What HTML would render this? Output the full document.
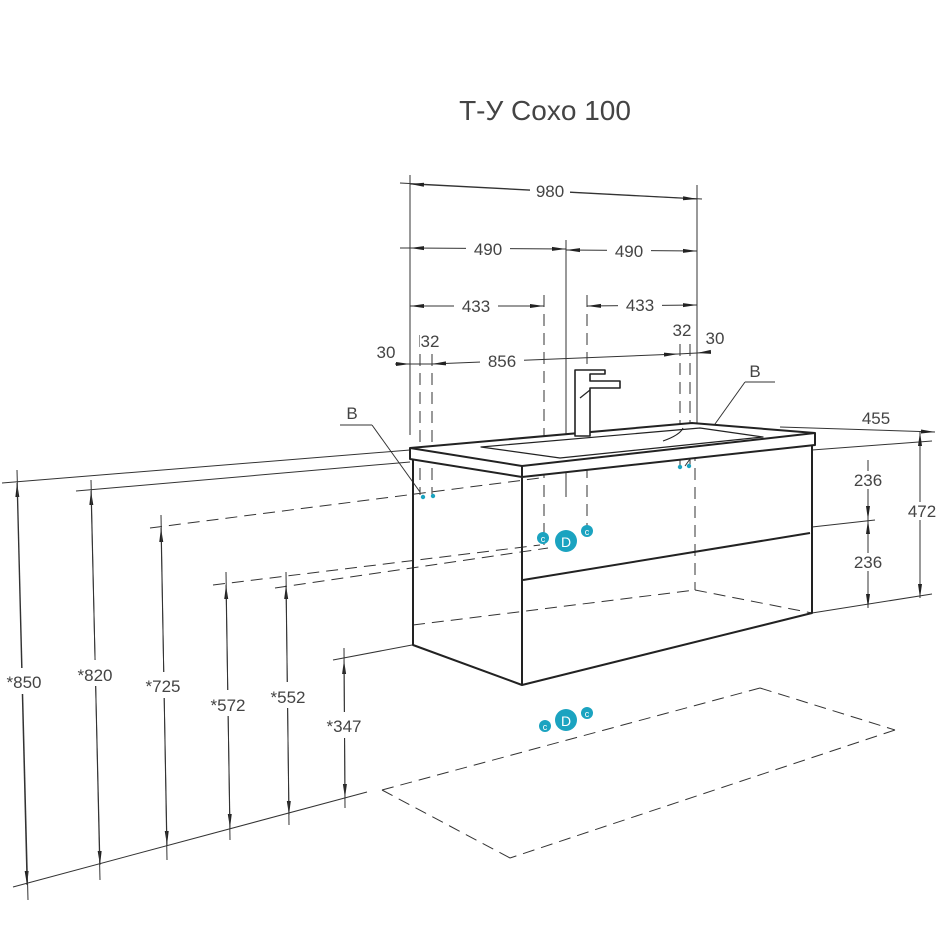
<!DOCTYPE html>
<html><head><meta charset="utf-8"><style>
html,body{margin:0;padding:0;background:#fff}
svg{display:block}
text{font-family:"Liberation Sans",sans-serif;fill:#444}
</style></head><body>
<svg width="950" height="950" viewBox="0 0 950 950" xmlns="http://www.w3.org/2000/svg">
<defs>
<marker id="a" viewBox="0 0 14 10" refX="14" refY="5" markerWidth="14" markerHeight="10" markerUnits="userSpaceOnUse" orient="auto-start-reverse"><path d="M0,3 L14,5 L0,7 z" fill="#222"/></marker>
</defs>
<text x="545" y="120" font-size="28" text-anchor="middle">Т-У Coxo 100</text>
<g stroke="#333" stroke-width="1" fill="none">
<line x1="410" y1="175" x2="410" y2="435"/>
<line x1="697" y1="185" x2="697" y2="425"/>
<line x1="566" y1="240" x2="566" y2="497"/>
<line x1="400" y1="183" x2="702" y2="199"/>
<line x1="410" y1="184" x2="697" y2="199" marker-start="url(#a)" marker-end="url(#a)"/>
<line x1="410" y1="248" x2="566" y2="249" marker-start="url(#a)" marker-end="url(#a)"/>
<line x1="566" y1="250" x2="697" y2="251" marker-start="url(#a)" marker-end="url(#a)"/>
<line x1="400" y1="248" x2="410" y2="248"/>
<line x1="410" y1="306" x2="544" y2="306" marker-start="url(#a)" marker-end="url(#a)"/>
<line x1="587" y1="306" x2="697" y2="305" marker-start="url(#a)" marker-end="url(#a)"/>
<line x1="395" y1="364" x2="410" y2="364" marker-end="url(#a)"/>
<line x1="432" y1="364" x2="678" y2="354" marker-start="url(#a)" marker-end="url(#a)"/>
<line x1="697" y1="353" x2="710" y2="352" marker-start="url(#a)"/>
<line x1="410" y1="364" x2="432" y2="364"/>
<line x1="678" y1="354" x2="697" y2="353"/>
</g>
<g stroke="#333" stroke-width="1" fill="none" stroke-dasharray="12,7">
<line x1="544" y1="295" x2="544" y2="545"/>
<line x1="587" y1="295" x2="587" y2="530"/>
<line x1="420" y1="335" x2="420" y2="495"/>
<line x1="432" y1="335" x2="432" y2="495"/>
<line x1="680" y1="325" x2="680" y2="465"/>
<line x1="690" y1="325" x2="690" y2="465"/>
<line x1="695" y1="430" x2="695" y2="590"/>
<line x1="413" y1="625" x2="695" y2="590"/>
<line x1="695" y1="590" x2="812" y2="613"/>
<line x1="150" y1="528" x2="540" y2="478"/>
<line x1="213" y1="585" x2="540" y2="545"/>
<line x1="275" y1="588" x2="548" y2="548"/>
<line x1="382" y1="790" x2="760" y2="688"/>
<line x1="760" y1="688" x2="895" y2="730"/>
<line x1="895" y1="730" x2="510" y2="858"/>
<line x1="510" y1="858" x2="382" y2="790"/>
<line x1="480" y1="448" x2="690" y2="429"/>
</g>
<g stroke="#333" stroke-width="1" fill="none">
<line x1="340" y1="425" x2="372" y2="425"/><line x1="372" y1="425" x2="420" y2="492"/>
<line x1="745" y1="382" x2="775" y2="382"/><line x1="745" y1="382" x2="685" y2="466"/>
<line x1="2" y1="483" x2="410" y2="450"/>
<line x1="76" y1="491" x2="410" y2="462"/>
<line x1="13" y1="887" x2="367" y2="792"/>
<line x1="333" y1="660" x2="412" y2="645"/>
<line x1="17" y1="483" x2="27" y2="885" marker-start="url(#a)" marker-end="url(#a)"/>
<line x1="91" y1="491" x2="100" y2="865" marker-start="url(#a)" marker-end="url(#a)"/>
<line x1="161" y1="528" x2="167" y2="845" marker-start="url(#a)" marker-end="url(#a)"/>
<line x1="226" y1="585" x2="230" y2="828" marker-start="url(#a)" marker-end="url(#a)"/>
<line x1="286" y1="585" x2="289" y2="815" marker-start="url(#a)" marker-end="url(#a)"/>
<line x1="344" y1="660" x2="345" y2="798" marker-start="url(#a)" marker-end="url(#a)"/>
<line x1="17" y1="470" x2="28" y2="900"/>
<line x1="91" y1="480" x2="100" y2="880"/>
<line x1="161" y1="515" x2="167" y2="860"/>
<line x1="226" y1="572" x2="230" y2="840"/>
<line x1="286" y1="572" x2="289" y2="825"/>
<line x1="344" y1="648" x2="345" y2="808"/>
<line x1="780" y1="427" x2="935" y2="432" marker-end="url(#a)"/>
<line x1="812" y1="450" x2="932" y2="441"/>
<line x1="812" y1="527" x2="875" y2="520"/>
<line x1="812" y1="613" x2="932" y2="594"/>
<line x1="920" y1="432" x2="920" y2="598" marker-start="url(#a)" marker-end="url(#a)"/>
<line x1="868" y1="460" x2="868" y2="520" marker-end="url(#a)"/>
<line x1="868" y1="520" x2="868" y2="608" marker-start="url(#a)" marker-end="url(#a)"/>
</g>
<g font-size="17" text-anchor="middle">
<rect x="530" y="182" width="40" height="16" fill="#fff"/>
<text x="550" y="197">980</text>
<rect x="466" y="240" width="44" height="16" fill="#fff"/>
<text x="488" y="255">490</text>
<rect x="607" y="242" width="44" height="16" fill="#fff"/>
<text x="629" y="257">490</text>
<rect x="454" y="297" width="44" height="16" fill="#fff"/>
<text x="476" y="312">433</text>
<rect x="618" y="297" width="44" height="16" fill="#fff"/>
<text x="640" y="311">433</text>
<rect x="480" y="352" width="44" height="16" fill="#fff"/>
<text x="502" y="367">856</text>
<text x="386" y="358">30</text>
<rect x="420" y="333" width="20" height="16" fill="#fff"/>
<text x="430" y="347">32</text>
<rect x="672" y="322" width="20" height="16" fill="#fff"/>
<text x="682" y="336">32</text>
<text x="715" y="344">30</text>
<text x="352" y="419">B</text>
<text x="755" y="377">B</text>
<text x="876" y="424">455</text>
<rect x="904" y="502" width="36" height="18" fill="#fff"/>
<text x="922" y="517">472</text>
<rect x="850" y="471" width="36" height="18" fill="#fff"/>
<text x="868" y="486">236</text>
<rect x="850" y="553" width="36" height="18" fill="#fff"/>
<text x="868" y="568">236</text>
<rect x="2" y="668" width="46" height="26" fill="#fff"/>
<text x="24" y="688">*850</text>
<rect x="72" y="660" width="46" height="26" fill="#fff"/>
<text x="95" y="681">*820</text>
<rect x="140" y="672" width="46" height="26" fill="#fff"/>
<text x="163" y="692">*725</text>
<rect x="205" y="690" width="46" height="26" fill="#fff"/>
<text x="228" y="711">*572</text>
<rect x="265" y="682" width="46" height="26" fill="#fff"/>
<text x="288" y="703">*552</text>
<rect x="321" y="712" width="46" height="26" fill="#fff"/>
<text x="344" y="732">*347</text>
</g>
<g stroke="#222" stroke-width="2" fill="none" stroke-linejoin="round">
<path d="M410,448 L692,423 L815,433 L815,445 L522,477 L410,459 Z" fill="#fff"/>
<line x1="410" y1="448" x2="522" y2="466"/>
<line x1="522" y1="466" x2="815" y2="433"/>
<line x1="522" y1="466" x2="522" y2="477"/>
<path d="M413,460 L413,645 L522,685 L812,613 L812,446"/>
<line x1="522" y1="478" x2="522" y2="685"/>
<line x1="523" y1="580" x2="810" y2="533"/>
<path d="M481,447 L700,428 L763,437 L560,458 Z" stroke-width="1.2"/>
<path d="M663,441 Q680,435 683,428" stroke-width="1"/>
<path d="M575,436 L575,370 L605,370 L605,374 L590,374 L590,381 L620,381 L620,388 L590,388 L590,436 Z" stroke-width="1.6" fill="#fff"/>
<path d="M580,398 L590,390" stroke-width="1.2"/>
</g>
<g fill="#1ba3c0">
<circle cx="423" cy="497" r="2.2"/><circle cx="433" cy="496" r="2.2"/>
<circle cx="680" cy="467" r="2.2"/><circle cx="689" cy="466" r="2.2"/>
<circle cx="566" cy="541" r="11"/><circle cx="543" cy="538" r="6"/><circle cx="587" cy="531" r="6"/>
<circle cx="566" cy="720" r="11"/><circle cx="545" cy="726" r="6"/><circle cx="587" cy="713" r="6"/>
</g>
<g font-size="14" text-anchor="middle">
<text x="566" y="547" style="fill:#fff">D</text>
<text x="566" y="726" style="fill:#fff">D</text>
<text x="543" y="542" font-size="9" style="fill:#fff">c</text>
<text x="587" y="535" font-size="9" style="fill:#fff">c</text>
<text x="545" y="730" font-size="9" style="fill:#fff">c</text>
<text x="587" y="717" font-size="9" style="fill:#fff">c</text>
</g>
</svg>
</body></html>
